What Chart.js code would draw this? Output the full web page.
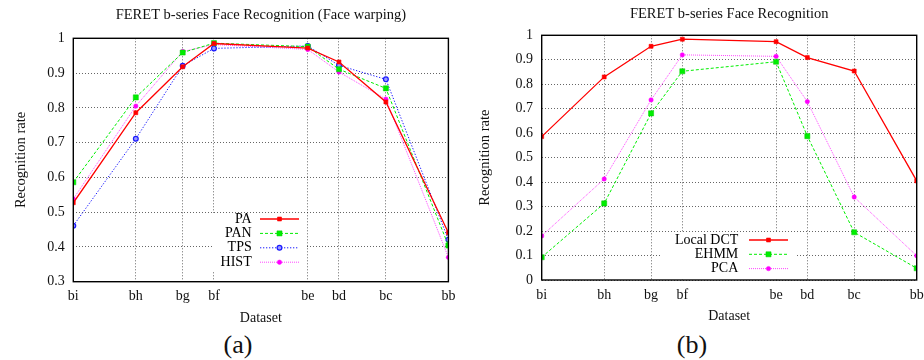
<!DOCTYPE html>
<html><head><meta charset="utf-8">
<script src="https://cdn.jsdelivr.net/npm/chart.js@4/dist/chart.umd.min.js"></script>
<style>
html,body{margin:0;padding:0;background:#fff;overflow:hidden;width:924px;height:360px}
#wrap{position:relative;width:924px;height:360px;overflow:hidden;background:#fff}
.cv{position:absolute;top:0}
#ca{left:0}
#cb{left:462px}
.cap{position:absolute;font-family:'Liberation Serif',serif;font-size:26px;color:#111;transform:translate(-50%,-50%);white-space:nowrap;line-height:1}
</style></head><body>
<div id="wrap">
<div class="cv" id="ca"><canvas id="c1" width="462" height="330"></canvas></div>
<div class="cv" id="cb"><canvas id="c2" width="470" height="330"></canvas></div>
<div class="cap" style="left:238px;top:345px">(a)</div>
<div class="cap" style="left:692px;top:345px">(b)</div>
</div>
<script>
// ---- data ----
const categories = ['bi','bh','bg','bf','be','bd','bc','bb'];
const poseAngles = [-60,-40,-25,-15,15,25,40,60];

const yTicksA = [0.3,0.4,0.5,0.6,0.7,0.8,0.9,1];
const yTickLabelsA = ['0.3','0.4','0.5','0.6','0.7','0.8','0.9','1'];
const yTicksB = [0,0.1,0.2,0.3,0.4,0.5,0.6,0.7,0.8,0.9,1];
const yTickLabelsB = ['0','0.1','0.2','0.3','0.4','0.5','0.6','0.7','0.8','0.9','1'];

const titleA = 'FERET b-series Face Recognition (Face warping)';
const titleB = 'FERET b-series Face Recognition';
const xTitle = 'Dataset';
const yTitle = 'Recognition rate';

const seriesNamesA = ['PA','PAN','TPS','HIST'];
const paValues   = [0.527,0.786,0.918,0.985,0.972,0.932,0.817,0.441];
const panValues  = [0.586,0.830,0.959,0.986,0.976,0.911,0.856,0.404];
const tpsValues  = [0.461,0.711,0.921,0.971,0.978,0.922,0.882,0.421];
const histValues = [0.538,0.805,0.962,0.982,0.968,0.903,0.825,0.370];

const seriesNamesB = ['Local DCT','EHMM','PCA'];
const dctValues  = [0.586,0.830,0.955,0.984,0.974,0.909,0.854,0.405];
const ehmmValues = [0.093,0.313,0.681,0.853,0.892,0.588,0.195,0.048];
const pcaValues  = [0.180,0.413,0.736,0.920,0.914,0.729,0.339,0.099];

// ---- helpers ----
const FONT = 'Liberation Serif';
const toPoints = vals => poseAngles.map((p,i)=>({x:p, y:vals[i]}));

const styles = {
  red:     {borderColor:'#ff0000', borderWidth:1.3, borderDash:[], pointStyle:'rect', pointRadius:2.8, pointBackgroundColor:'#ff0000', pointBorderColor:'#ff0000', pointBorderWidth:0.6},
  green:   {borderColor:'#00ee00', borderWidth:1, borderDash:[3,2], pointStyle:'rect', pointRadius:3.6, pointBackgroundColor:'#00ee00', pointBorderColor:'#00cc00', pointBorderWidth:0.5},
  blue:    {borderColor:'#1a1aff', borderWidth:1, borderDash:[1.3,1.7], pointStyle:'circle', pointRadius:2.4, pointBackgroundColor:'#9a9aff', pointBorderColor:'#1a1aff', pointBorderWidth:1.2},
  magenta: {borderColor:'#ff33ff', borderWidth:0.9, borderDash:[1,1], pointStyle:'circle', pointRadius:2.2, pointBackgroundColor:'#ff00ff', pointBorderColor:'#ff00ff', pointBorderWidth:0.5}
};

const frame = {
  id:'frame',
  afterDraw(chart){
    const {ctx, chartArea:a} = chart;
    ctx.save(); ctx.strokeStyle='#000'; ctx.lineWidth=1.4;
    ctx.strokeRect(a.left, a.top, a.right-a.left, a.bottom-a.top);
    ctx.restore();
  }
};

const boxLegend = {
  id:'boxLegend',
  afterDatasetsDraw(chart, args, o){
    const ctx = chart.ctx;
    ctx.save();
    ctx.fillStyle='#fff';
    ctx.fillRect(o.box[0], o.box[1], o.box[2]-o.box[0], o.box[3]-o.box[1]);
    ctx.font = '14px "' + FONT + '"';
    ctx.textAlign='right'; ctx.textBaseline='middle';
    chart.data.datasets.forEach((ds,i)=>{
      const y = o.rowY + i*o.rowGap;
      ctx.fillStyle='#000';
      ctx.fillText(ds.label, o.textRight, y);
      ctx.strokeStyle=ds.borderColor; ctx.lineWidth=ds.borderWidth;
      ctx.setLineDash(ds.borderDash||[]);
      ctx.beginPath(); ctx.moveTo(o.x1,y); ctx.lineTo(o.x2,y); ctx.stroke();
      ctx.setLineDash([]);
      ctx.fillStyle=ds.pointBackgroundColor; ctx.strokeStyle=ds.pointBorderColor; ctx.lineWidth=ds.pointBorderWidth;
      Chart.helpers.drawPoint(ctx, {pointStyle:ds.pointStyle, radius:ds.pointRadius, rotation:0, borderWidth:ds.pointBorderWidth}, (o.x1+o.x2)/2, y);
    });
    ctx.restore();
  }
};

function makeChart(id, cfg){
  const datasets = cfg.series.map((s,i)=>Object.assign({label:s.name, data:toPoints(s.values), fill:false, tension:0}, styles[s.style]));
  return new Chart(document.getElementById(id), {
    type:'line',
    data:{datasets},
    plugins:[frame, boxLegend],
    options:{
      responsive:false, animation:false, devicePixelRatio:1,
      layout:{padding:{left:0, top:0, right:cfg.padRight, bottom:cfg.padBottom}},
      plugins:{
        legend:{display:false}, tooltip:{enabled:false},
        title:{display:true, fullSize:false, text:cfg.title, color:'#111', font:{family:FONT, size:14.5, weight:'normal'}, padding:{top:cfg.titleTop, bottom:cfg.titleBottom}},
        boxLegend:cfg.legend
      },
      scales:{
        x:{
          type:'linear', min:-60, max:60,
          afterBuildTicks: s => { s.ticks = poseAngles.map(v=>({value:v})); },
          afterFit: s => { s.height = 48.3; },
          ticks:{autoSkip:false, maxRotation:0, padding:6.6, color:'#111', font:{family:FONT, size:14},
                 callback: v => categories[poseAngles.indexOf(v)]},
          grid:{color:'rgba(0,0,0,0.6)', lineWidth:1, drawTicks:false},
          border:{display:false, dash:[1,2]},
          title:{display:true, text:xTitle, color:'#111', font:{family:FONT, size:14}, padding:{top:0,bottom:3.3}}
        },
        y:{
          type:'linear', min:cfg.yTicks[0], max:cfg.yTicks[cfg.yTicks.length-1],
          afterBuildTicks: s => { s.ticks = cfg.yTicks.map(v=>({value:v})); },
          afterFit: s => { s.width = cfg.yWidth; },
          ticks:{padding:8.6, color:'#111', font:{family:FONT, size:14},
                 callback: v => { const k = cfg.yTicks.findIndex(t=>Math.abs(t-v)<1e-9); return cfg.yLabels[k]; }},
          grid:{color:'rgba(0,0,0,0.6)', lineWidth:1, drawTicks:false},
          border:{display:false, dash:[1,2]},
          title:{display:true, text:yTitle, color:'#111', font:{family:FONT, size:14.5}, padding:{top:cfg.yTitlePad, bottom:0}}
        }
      }
    }
  });
}

makeChart('c1', {
  title:titleA, titleTop:6.4, titleBottom:14.5, padRight:13, padBottom:0, yWidth:73.3, yTitlePad:12.4,
  yTicks:yTicksA, yLabels:yTickLabelsA,
  series:[
    {name:seriesNamesA[0], values:paValues, style:'red'},
    {name:seriesNamesA[1], values:panValues, style:'green'},
    {name:seriesNamesA[2], values:tpsValues, style:'blue'},
    {name:seriesNamesA[3], values:histValues, style:'magenta'}
  ],
  legend:{box:[213,213,306,271], textRight:251.7, x1:260, x2:299, rowY:219, rowGap:14.4}
});

makeChart('c2', {
  title:titleB, titleTop:5.9, titleBottom:12, padRight:15.3, padBottom:1.7, yWidth:79.7, yTitlePad:14.2,
  yTicks:yTicksB, yLabels:yTickLabelsB,
  series:[
    {name:seriesNamesB[0], values:dctValues, style:'red'},
    {name:seriesNamesB[1], values:ehmmValues, style:'green'},
    {name:seriesNamesB[2], values:pcaValues, style:'magenta'}
  ],
  legend:{box:[198,233,335,279], textRight:276.3, x1:287, x2:326, rowY:240, rowGap:14.3}
});
</script>
</body></html>
